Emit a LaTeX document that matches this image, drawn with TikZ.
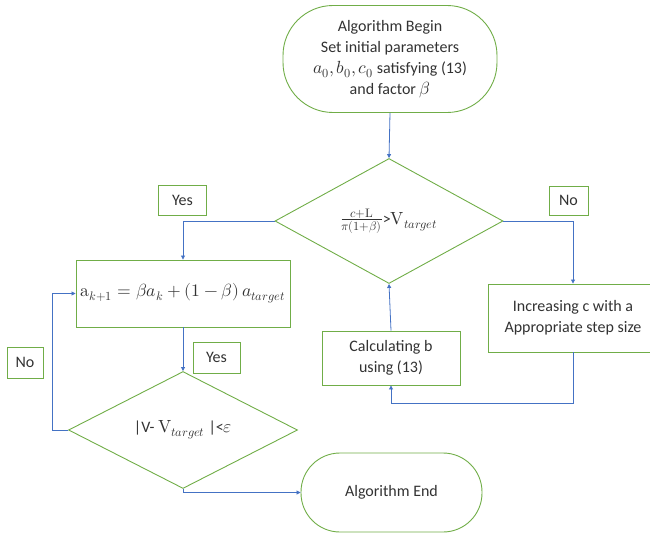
\documentclass[tikz,border=0pt]{standalone}
\usepackage{fontspec}
\usepackage{unicode-math}
\setmainfont{Carlito}
\setmathfont{Latin Modern Math}[Scale=1.1]
\usetikzlibrary{shapes.geometric,arrows.meta}
\definecolor{fgreen}{RGB}{112,173,71}
\definecolor{fblue}{RGB}{68,114,196}
\definecolor{ftext}{RGB}{50,50,50}
\begin{document}
\begin{tikzpicture}[x=1pt,y=-1pt,
  every node/.style={text=ftext,font=\fontsize{16}{21}\selectfont,align=center,inner sep=0pt},
  boxa/.style={draw=fgreen,line width=0.9pt,rectangle},
  term/.style={draw=fgreen,line width=0.9pt,rectangle},
  dia/.style={draw=fgreen,line width=0.9pt,diamond},
  lab/.style={draw=fgreen,line width=0.9pt,rectangle},
  conn/.style={draw=fblue,line width=0.8pt,-{Triangle[length=4pt,width=4pt]}}]
\useasboundingbox (0,0) rectangle (650,535);

\node[term,rounded corners=50pt,minimum width=214pt,minimum height=107pt] (start) at (390,59)
  {Algorithm Begin\\Set initial parameters\\$a_0,b_0,c_0$ satisfying (13)\\and factor $\beta$};
\node[dia,minimum width=228pt,minimum height=125pt] (d1) at (389,221)
  {$\frac{c+\symup{L}}{\pi(1+\beta)}$>$\symup{V}_{target}$};
\node[boxa,minimum width=214pt,minimum height=67pt] (upd) at (183,293.5)
  {$\symup{a}_{k+1}=\beta a_k+(1-\beta)\,a_{target}$};
\node[dia,minimum width=229pt,minimum height=104pt] (d2) at (183,430)
  {|V- $\symup{V}_{target}$ |<$\varepsilon$};
\node[term,rounded corners=39pt,minimum width=181pt,minimum height=79pt] (end) at (391.5,492.5)
  {Algorithm End};
\node[boxa,minimum width=138pt,minimum height=54pt] (calc) at (391,358)
  {Calculating b\\using (13)};
\node[boxa,minimum width=170pt,minimum height=68pt] (inc) at (573,318)
  {Increasing c with a\\Appropriate step size};

\node[lab,minimum width=48pt,minimum height=30pt] (yes1) at (182.5,200.5) {Yes};
\node[lab,minimum width=47pt,minimum height=31pt] (yes2) at (216.5,357.5) {Yes};
\node[lab,minimum width=36pt,minimum height=31pt] (no1) at (25,362.5) {No};
\node[lab,minimum width=39pt,minimum height=29pt] (no2) at (568.5,200.5) {No};

\coordinate (lp) at (52,430);
\coordinate (bc) at (573,403);

\draw[conn] (start.south) -- (d1.north);
\draw[conn] (d1.west) -| (upd.north);
\draw[conn] (upd.south) -- (d2.north);
\draw[conn] (d2.west) -- (lp) |- (upd.west);
\draw[conn] (d2.south) |- (end.west);
\draw[conn] (d1.east) -| (inc.north);
\draw[conn] (inc.south) -- (bc) -| (calc.south);
\draw[conn] (calc.north) -- (d1.south);
\end{tikzpicture}
\end{document}
